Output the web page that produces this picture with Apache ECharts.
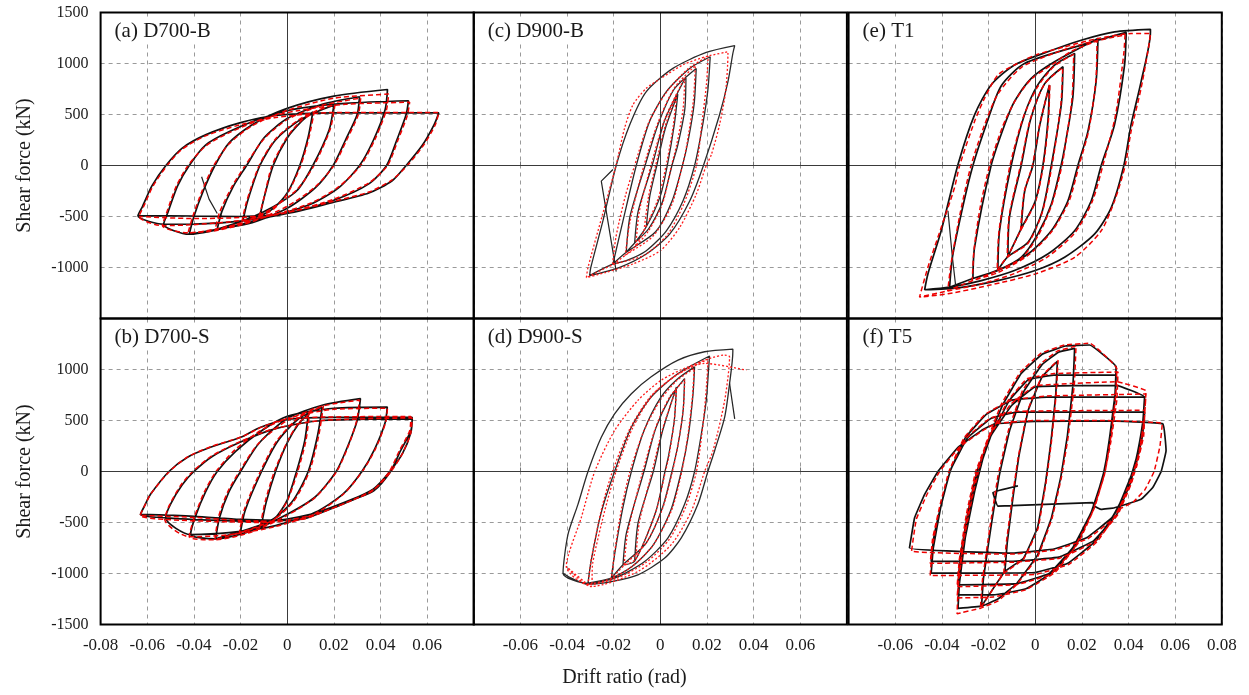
<!DOCTYPE html>
<html>
<head>
<meta charset="utf-8">
<script src="https://cdn.jsdelivr.net/npm/echarts@6/dist/echarts.min.js"></script>
<style>html,body{margin:0;padding:0;background:#fff}#c{width:1249px;height:695px}</style>
</head>
<body>
<div id="c"></div>
<script>
// ---------- labels ----------
const panelTitles = ['(a) D700-B', '(c) D900-B', '(e) T1', '(b) D700-S', '(d) D900-S', '(f) T5'];
const yAxisTitle = 'Shear force (kN)';
const xAxisTitle = 'Drift ratio (rad)';
const xTickValues = [-0.08, -0.06, -0.04, -0.02, 0, 0.02, 0.04, 0.06, 0.08];
const yTickValues = [-1500, -1000, -500, 0, 500, 1000, 1500];

// ---------- (a) D700-B : test (black) and analysis (red), drift [rad], force [kN] ----------
const aTest = [
 [[-0.0117,-493],[-0.0095,-280],[-0.006,0],[0,270],[0.006,430],[0.011,526],[0.009,280],[0.0054,0],[0,-270],[-0.006,-420],[-0.0117,-493]],
 [[-0.019,-543],[-0.017,-350],[-0.0117,0],[-0.005,250],[0.005,440],[0.013,530],[0.020,592],[0.018,350],[0.011,0],[0.004,-250],[-0.008,-430],[-0.019,-543]],
 [[-0.030,-625],[-0.028,-450],[-0.023,-200],[-0.0174,0],[-0.010,270],[0,460],[0.015,600],[0.031,674],[0.030,500],[0.025,250],[0.0197,0],[0.012,-220],[0,-420],[-0.015,-560],[-0.030,-625]],
 [[-0.042,-674],[-0.040,-500],[-0.036,-250],[-0.031,0],[-0.025,220],[-0.015,400],[0,560],[0.02,680],[0.043,745],[0.042,550],[0.037,250],[0.031,0],[0.022,-220],[0.01,-380],[-0.01,-520],[-0.03,-630],[-0.042,-674]],
 [[-0.053,-576],[-0.051,-450],[-0.047,-200],[-0.042,0],[-0.035,200],[-0.025,330],[-0.01,470],[0.005,560],[0.025,610],[0.052,635],[0.051,500],[0.047,250],[0.0426,0],[0.035,-180],[0.02,-340],[0,-470],[-0.02,-545],[-0.04,-575],[-0.053,-576]],
 [[-0.064,-493],[-0.062,-400],[-0.058,-200],[-0.052,0],[-0.045,170],[-0.035,300],[-0.02,420],[-0.005,490],[0.02,515],[0.065,516],[0.063,400],[0.058,200],[0.051,0],[0.045,-150],[0.035,-270],[0.02,-360],[0,-470],[-0.02,-500],[-0.04,-495],[-0.064,-493]]
];
const aTestExtra = [[-0.0367,-110],[-0.0335,-330],[-0.030,-470]];
const aModel = [
 [[-0.012,-500],[-0.0098,-300],[-0.0065,0],[0,280],[0.006,440],[0.0115,520],[0.0095,290],[0.0058,0],[0,-280],[-0.006,-430],[-0.012,-500]],
 [[-0.0195,-560],[-0.0175,-360],[-0.012,0],[-0.005,260],[0.005,450],[0.013,540],[0.0205,600],[0.0185,360],[0.0115,0],[0.004,-240],[-0.008,-440],[-0.0195,-560]],
 [[-0.031,-640],[-0.029,-460],[-0.0235,-200],[-0.018,0],[-0.010,260],[0,450],[0.015,590],[0.0315,660],[0.0305,500],[0.0255,250],[0.020,0],[0.012,-210],[0,-400],[-0.015,-550],[-0.031,-640]],
 [[-0.0425,-660],[-0.0405,-500],[-0.0365,-250],[-0.0315,0],[-0.025,210],[-0.015,390],[0,540],[0.02,660],[0.0435,700],[0.0425,540],[0.0375,250],[0.0315,0],[0.022,-210],[0.01,-370],[-0.01,-510],[-0.03,-620],[-0.0425,-660]],
 [[-0.0535,-590],[-0.0515,-450],[-0.0475,-200],[-0.0425,0],[-0.035,190],[-0.025,320],[-0.01,460],[0.005,540],[0.025,600],[0.0525,620],[0.0515,490],[0.0475,250],[0.043,0],[0.035,-170],[0.02,-330],[0,-460],[-0.02,-540],[-0.04,-580],[-0.0535,-590]],
 [[-0.0635,-500],[-0.0615,-400],[-0.0575,-200],[-0.0515,0],[-0.045,160],[-0.035,290],[-0.02,400],[-0.005,470],[0.02,520],[0.065,520],[0.0635,400],[0.0585,200],[0.0515,0],[0.045,-140],[0.035,-260],[0.02,-350],[0,-460],[-0.02,-510],[-0.04,-520],[-0.0635,-500]]
];

// ---------- (c) D900-B ----------
const cTest = [
 [[-0.006,-600],[-0.0045,-300],[-0.0015,0],[0.002,350],[0.0075,700],[0.006,400],[0.003,0],[0,-300],[-0.006,-600]],
 [[-0.011,-760],[-0.0095,-450],[-0.0035,0],[0.002,450],[0.011,870],[0.0105,550],[0.0075,200],[0.005,0],[0.001,-350],[-0.005,-620],[-0.011,-760]],
 [[-0.0146,-851],[-0.013,-500],[-0.0065,0],[-0.001,400],[0.006,750],[0.0154,952],[0.0145,600],[0.012,250],[0.0095,0],[0.005,-350],[-0.002,-650],[-0.0146,-851]],
 [[-0.0203,-965],[-0.016,-543],[-0.0103,0],[-0.0046,432],[0.0026,725],[0.0126,952],[0.0214,1066],[0.0204,741],[0.0183,416],[0.0147,0],[0.0097,-348],[0.0026,-640],[-0.006,-835],[-0.0146,-933],[-0.0203,-965]],
 [[-0.0303,-1079],[-0.0298,-1000],[-0.0246,-543],[-0.0189,0],[-0.0131,400],[-0.006,725],[0.0054,952],[0.0197,1108],[0.0319,1175],[0.0311,1098],[0.029,822],[0.0254,497],[0.0185,0],[0.0126,-348],[0.004,-673],[-0.006,-868],[-0.0174,-998],[-0.0303,-1079]]
];
const cTestExtra = [[-0.0189,-1040],[-0.0253,-153],[-0.0203,-39]];
const cModel = [
 [[-0.007,-640],[-0.005,-300],[-0.002,0],[0.002,380],[0.007,700],[0.0055,380],[0.0025,0],[-0.001,-330],[-0.007,-640]],
 [[-0.0105,-790],[-0.009,-450],[-0.004,0],[0.002,460],[0.0105,860],[0.0098,560],[0.007,200],[0.0048,0],[0.001,-370],[-0.005,-640],[-0.0105,-790]],
 [[-0.015,-880],[-0.013,-550],[-0.007,0],[-0.001,420],[0.006,760],[0.015,980],[0.0142,640],[0.0115,220],[0.0095,0],[0.005,-380],[-0.003,-690],[-0.015,-880]],
 [[-0.0205,-975],[-0.019,-700],[-0.015,-300],[-0.011,0],[-0.005,420],[0.003,730],[0.012,950],[0.0205,1070],[0.0198,800],[0.018,450],[0.0155,0],[0.01,-380],[0.003,-680],[-0.007,-880],[-0.0205,-975]],
 [[-0.0317,-1100],[-0.031,-1000],[-0.025,-500],[-0.019,0],[-0.0153,367],[-0.0117,595],[-0.006,757],[0,850],[0.01,990],[0.02,1070],[0.029,1115],[0.029,1098],[0.028,725],[0.0254,400],[0.0219,107],[0.0197,0],[0.0154,-283],[0.0083,-608],[0,-835],[-0.0117,-965],[-0.0231,-1046],[-0.0317,-1100]]
];

// ---------- (e) T1 ----------
const eTest = [
 [[-0.006,-620],[-0.0045,-250],[-0.001,0],[0.002,400],[0.0061,790],[0.0055,450],[0.0033,0],[0,-350],[-0.006,-620]],
 [[-0.0117,-894],[-0.011,-500],[-0.006,0],[-0.002,450],[0.004,800],[0.0119,968],[0.0112,600],[0.0069,0],[0.003,-450],[-0.003,-750],[-0.0117,-894]],
 [[-0.016,-1026],[-0.0153,-640],[-0.0103,0],[-0.0046,497],[0.0011,790],[0.0083,985],[0.0169,1098],[0.0161,660],[0.0126,172],[0.0111,0],[0.0069,-380],[0.0011,-673],[-0.006,-900],[-0.016,-1026]],
 [[-0.0267,-1108],[-0.026,-803],[-0.0189,0],[-0.0131,400],[-0.0089,627],[-0.0017,855],[0.0083,1017],[0.0269,1245],[0.0261,822],[0.0226,335],[0.0183,0],[0.014,-348],[0.0069,-640],[-0.0031,-868],[-0.016,-1030],[-0.0267,-1108]],
 [[-0.0367,-1193],[-0.0355,-900],[-0.031,-400],[-0.0267,0],[-0.021,400],[-0.0146,780],[-0.0046,1000],[0.0197,1180],[0.039,1305],[0.0383,985],[0.034,400],[0.0283,0],[0.024,-348],[0.0169,-640],[0.0054,-868],[-0.0089,-1030],[-0.0231,-1128],[-0.0367,-1193]],
 [[-0.0474,-1218],[-0.046,-1063],[-0.0403,-640],[-0.0331,10],[-0.026,497],[-0.0189,790],[-0.0089,985],[0.0054,1115],[0.0197,1228],[0.034,1310],[0.0494,1335],[0.0494,1310],[0.0454,822],[0.0411,400],[0.038,0],[0.0326,-413],[0.0254,-673],[0.0126,-900],[0,-1030],[-0.016,-1128],[-0.0331,-1199],[-0.0474,-1218]]
];
const eTestExtra = [[-0.0374,-445],[-0.0355,-900],[-0.034,-1200]];
const eModel = [
 [[-0.0063,-640],[-0.0047,-260],[-0.0012,0],[0.002,410],[0.0063,800],[0.0057,450],[0.0035,0],[0,-360],[-0.0063,-640]],
 [[-0.012,-900],[-0.0112,-500],[-0.0063,0],[-0.002,460],[0.004,800],[0.0118,960],[0.011,600],[0.0072,0],[0.003,-460],[-0.003,-760],[-0.012,-900]],
 [[-0.0163,-1030],[-0.0155,-640],[-0.0108,0],[-0.005,480],[0.001,770],[0.008,970],[0.0165,1090],[0.0158,660],[0.0128,180],[0.0115,0],[0.007,-390],[0.0012,-690],[-0.006,-910],[-0.0163,-1030]],
 [[-0.027,-1130],[-0.0262,-820],[-0.0235,-400],[-0.0195,0],[-0.014,380],[-0.009,620],[-0.002,840],[0.008,1000],[0.0155,1120],[0.0265,1220],[0.026,830],[0.023,350],[0.0188,0],[0.0145,-350],[0.007,-650],[-0.003,-880],[-0.016,-1050],[-0.027,-1130]],
 [[-0.0375,-1230],[-0.036,-950],[-0.032,-450],[-0.0275,0],[-0.022,380],[-0.016,700],[-0.006,960],[0.008,1100],[0.02,1190],[0.0385,1280],[0.038,1100],[0.0345,500],[0.029,0],[0.0245,-350],[0.017,-660],[0.005,-900],[-0.009,-1060],[-0.023,-1160],[-0.0375,-1230]],
 [[-0.0496,-1290],[-0.046,-998],[-0.0403,-608],[-0.0346,-218],[-0.0324,0],[-0.026,432],[-0.0217,660],[-0.016,887],[-0.0089,985],[0,1082],[0.0126,1163],[0.0269,1245],[0.0411,1293],[0.0494,1295],[0.049,1212],[0.0454,757],[0.0411,335],[0.0386,0],[0.034,-348],[0.0283,-640],[0.0169,-900],[0,-1063],[-0.0203,-1177],[-0.0374,-1258],[-0.0496,-1290]]
];

// ---------- (b) D700-S ----------
const bTest = [
 [[-0.011,-520],[-0.009,-300],[-0.005,0],[0,280],[0.005,470],[0.009,560],[0.0075,300],[0.004,0],[0,-280],[-0.005,-450],[-0.011,-520]],
 [[-0.020,-590],[-0.018,-380],[-0.011,0],[-0.004,300],[0.005,520],[0.015,630],[0.013,350],[0.009,0],[0.002,-300],[-0.008,-500],[-0.020,-590]],
 [[-0.0307,-660],[-0.029,-450],[-0.025,-200],[-0.020,0],[-0.012,280],[0,520],[0.015,650],[0.0314,714],[0.030,500],[0.026,250],[0.021,0],[0.012,-250],[0,-420],[-0.015,-580],[-0.0307,-660]],
 [[-0.0414,-618],[-0.0395,-450],[-0.035,-200],[-0.030,0],[-0.022,200],[-0.011,400],[0,540],[0.02,620],[0.0429,632],[0.042,480],[0.0375,220],[0.032,0],[0.024,-220],[0.012,-400],[-0.005,-530],[-0.025,-600],[-0.0414,-618]],
 [[-0.0521,-454],[-0.050,-320],[-0.045,-130],[-0.040,0],[-0.032,150],[-0.02,290],[-0.005,420],[0.015,500],[0.0536,516],[0.053,380],[0.0495,180],[0.044,0],[0.037,-170],[0.027,-280],[0.01,-420],[-0.01,-490],[-0.03,-480],[-0.0521,-454]],
 [[-0.0629,-421],[-0.061,-330],[-0.0586,-224],[-0.0507,0],[-0.0429,138],[-0.0329,237],[-0.02,335],[-0.0114,434],[0,510],[0.02,530],[0.0536,530],[0.053,400],[0.0486,204],[0.0443,0],[0.0371,-190],[0.0286,-273],[0.02,-355],[0.0086,-454],[0,-480],[-0.02,-470],[-0.04,-440],[-0.0629,-421]]
];
const bModel = [
 [[-0.0115,-530],[-0.0095,-300],[-0.0055,0],[0,290],[0.005,480],[0.0095,560],[0.008,300],[0.0045,0],[0,-290],[-0.005,-460],[-0.0115,-530]],
 [[-0.0205,-600],[-0.0185,-380],[-0.0115,0],[-0.0045,300],[0.005,530],[0.0155,640],[0.0135,350],[0.0095,0],[0.0025,-300],[-0.008,-510],[-0.0205,-600]],
 [[-0.031,-670],[-0.0295,-450],[-0.0255,-200],[-0.0205,0],[-0.0125,270],[0,500],[0.015,640],[0.031,700],[0.0298,500],[0.0262,250],[0.0212,0],[0.0122,-250],[0,-430],[-0.015,-590],[-0.031,-670]],
 [[-0.042,-640],[-0.040,-460],[-0.0355,-200],[-0.0305,0],[-0.0225,210],[-0.0115,400],[0,520],[0.02,610],[0.043,620],[0.0422,480],[0.0378,220],[0.0322,0],[0.0242,-220],[0.0122,-410],[-0.005,-540],[-0.025,-620],[-0.042,-640]],
 [[-0.0525,-470],[-0.0505,-330],[-0.0455,-130],[-0.0405,0],[-0.0325,150],[-0.0205,290],[-0.0055,420],[0.015,500],[0.0535,525],[0.053,380],[0.0495,180],[0.0445,0],[0.0375,-170],[0.0275,-285],[0.0105,-430],[-0.01,-500],[-0.03,-490],[-0.0525,-470]],
 [[-0.063,-430],[-0.061,-330],[-0.0585,-220],[-0.0505,0],[-0.0425,145],[-0.0325,245],[-0.0195,340],[-0.0105,440],[0,515],[0.02,535],[0.053,540],[0.0525,400],[0.048,200],[0.0438,0],[0.0365,-190],[0.028,-280],[0.0195,-360],[0.008,-460],[0,-490],[-0.02,-480],[-0.04,-450],[-0.063,-430]]
];

// ---------- (d) D900-S ----------
const dTest = [
 [[-0.011,-880],[-0.0095,-500],[-0.003,0],[0.001,400],[0.0069,829],[0.006,500],[0.0035,150],[0.002,0],[-0.002,-400],[-0.011,-880]],
 [[-0.016,-915],[-0.0145,-600],[-0.007,0],[-0.002,420],[0.004,720],[0.0104,911],[0.0098,600],[0.0075,250],[0.005,0],[0.001,-350],[-0.006,-700],[-0.016,-915]],
 [[-0.021,-1046],[-0.0195,-800],[-0.016,-350],[-0.0124,0],[-0.007,400],[0,720],[0.007,900],[0.0147,1026],[0.014,750],[0.012,350],[0.009,0],[0.0045,-380],[-0.003,-720],[-0.012,-930],[-0.021,-1046]],
 [[-0.031,-1095],[-0.0297,-880],[-0.0253,-400],[-0.0196,0],[-0.0124,434],[-0.0039,730],[0.0076,960],[0.0211,1132],[0.0207,1000],[0.0197,697],[0.0176,368],[0.0147,0],[0.0104,-322],[0.0033,-651],[-0.0067,-882],[-0.0196,-1046],[-0.031,-1095]],
 [[-0.0417,-997],[-0.0396,-619],[-0.0353,-322],[-0.031,0],[-0.0253,336],[-0.0196,566],[-0.0124,763],[-0.0039,928],[0.0076,1092],[0.019,1174],[0.0311,1200],[0.0311,1175],[0.0297,862],[0.0276,533],[0.0233,204],[0.0204,0],[0.0161,-322],[0.009,-651],[0.0019,-849],[-0.0096,-1013],[-0.021,-1079],[-0.031,-1105],[-0.0381,-1046],[-0.0417,-997]]
];
const dTestExtra = [[0.0297,862],[0.0319,516]];
const dModel = [
 [[-0.0105,-860],[-0.009,-500],[-0.0035,0],[0.001,420],[0.007,820],[0.006,500],[0.0037,150],[0.0022,0],[-0.002,-400],[-0.0105,-860]],
 [[-0.0155,-920],[-0.014,-600],[-0.0075,0],[-0.002,430],[0.004,730],[0.0105,900],[0.0098,600],[0.0076,260],[0.0052,0],[0.001,-360],[-0.006,-700],[-0.0155,-920]],
 [[-0.021,-1050],[-0.0195,-780],[-0.0165,-350],[-0.013,0],[-0.007,400],[0,700],[0.007,890],[0.0145,1010],[0.0138,740],[0.0118,350],[0.0092,0],[0.005,-370],[-0.003,-720],[-0.012,-930],[-0.021,-1050]],
 [[-0.031,-1110],[-0.0295,-850],[-0.025,-350],[-0.0205,0],[-0.013,420],[-0.004,740],[0.008,960],[0.0205,1100],[0.020,900],[0.0185,500],[0.0155,0],[0.011,-340],[0.004,-660],[-0.006,-890],[-0.019,-1050],[-0.031,-1110]],
 [[-0.0403,-931],[-0.0339,-454],[-0.0281,0],[-0.0196,401],[-0.0096,697],[0.0004,895],[0.0119,1026],[0.0276,1141],[0.0297,1125],[0.0276,697],[0.0226,204],[0.019,0],[0.0133,-388],[0.0047,-717],[-0.0096,-980],[-0.0296,-1128],[-0.0403,-931]],
 [[-0.0296,-1128],[-0.029,-900],[-0.024,-400],[-0.019,0],[-0.012,420],[-0.003,760],[0.008,960],[0.019,1060],[0.0369,993]]
];

// ---------- (f) T5 ----------
const fTest = [
 [[-0.013,-980],[-0.012,-700],[-0.0095,-250],[-0.007,150],[-0.003,600],[0.003,930],[0.0095,1080],[0.0088,750],[0.0068,300],[0.0045,-100],[0.001,-550],[-0.005,-850],[-0.013,-980]],
 [[-0.023,-1320],[-0.0222,-1050],[-0.019,-550],[-0.0155,-50],[-0.011,400],[-0.005,780],[0.003,1050],[0.010,1170],[0.0169,1207],[0.0162,850],[0.0138,350],[0.011,-50],[0.007,-450],[0.001,-820],[-0.008,-1100],[-0.016,-1250],[-0.023,-1320]],
 [[-0.0331,-1342],[-0.0325,-1100],[-0.030,-650],[-0.026,-200],[-0.021,250],[-0.014,650],[-0.006,960],[0.003,1150],[0.013,1230],[0.0233,1240],[0.0347,1026],[0.0342,750],[0.032,350],[0.0295,0],[0.025,-350],[0.018,-700],[0.008,-980],[-0.004,-1150],[-0.018,-1210],[-0.0331,-1210]],
 [[-0.0331,-1210],[-0.0322,-950],[-0.029,-500],[-0.025,-50],[-0.019,350],[-0.011,700],[-0.003,900],[0.008,944],[0.0347,944],[0.0342,700],[0.032,300],[0.029,-50],[0.024,-400],[0.016,-750],[0.006,-1000],[-0.008,-1100],[-0.0331,-1112]],
 [[-0.0331,-1112],[-0.0322,-850],[-0.029,-420],[-0.025,0],[-0.019,350],[-0.010,650],[0,830],[0.0347,845],[0.0469,730],[0.0462,500],[0.0442,200],[0.041,-50],[0.035,-380],[0.026,-680],[0.014,-900],[0,-990],[-0.0446,-997]],
 [[-0.0446,-997],[-0.0437,-750],[-0.0405,-350],[-0.0365,0],[-0.030,330],[-0.021,560],[-0.01,700],[0.005,730],[0.0469,730],[0.0462,500],[0.044,200],[0.041,-100],[0.035,-420],[0.025,-680],[0.010,-840],[-0.01,-880],[-0.0446,-881]],
 [[-0.0446,-881],[-0.0435,-650],[-0.040,-300],[-0.036,30],[-0.029,330],[-0.019,520],[-0.008,582],[0.0469,582],[0.046,350],[0.043,50],[0.040,-150],[0.033,-450],[0.022,-650],[0.008,-760],[-0.01,-800],[-0.0539,-750]],
 [[-0.0539,-750],[-0.0517,-454],[-0.0474,-224],[-0.0417,0],[-0.0331,237],[-0.0231,401],[-0.0174,467],[0,490],[0.03,495],[0.0547,467],[0.0561,204],[0.054,0],[0.0504,-158],[0.0454,-273],[0.034,-355],[0.0283,-372],[0.0254,-339],[0.0247,-306],[-0.016,-339],[-0.0181,-207],[-0.0074,-141]]
];
const fModel = [
 [[-0.0135,-1000],[-0.0125,-720],[-0.0098,-250],[-0.0072,150],[-0.0032,600],[0.003,940],[0.0098,1090],[0.009,760],[0.007,300],[0.0047,-100],[0.0012,-560],[-0.005,-860],[-0.0135,-1000]],
 [[-0.0235,-1340],[-0.0226,-1060],[-0.0195,-560],[-0.016,-50],[-0.0115,400],[-0.0055,790],[0.0025,1060],[0.0095,1180],[0.0175,1230],[0.0168,860],[0.0142,350],[0.0113,-50],[0.0072,-460],[0.0012,-830],[-0.008,-1110],[-0.016,-1270],[-0.0235,-1340]],
 [[-0.0335,-1395],[-0.033,-1120],[-0.0305,-660],[-0.0265,-200],[-0.0215,250],[-0.0145,660],[-0.0065,970],[0.0025,1160],[0.0125,1240],[0.0235,1257],[0.035,1010],[0.0345,740],[0.0325,350],[0.030,0],[0.0255,-350],[0.0185,-700],[0.0085,-990],[-0.004,-1160],[-0.018,-1230],[-0.0335,-1240]],
 [[-0.0335,-1240],[-0.0325,-960],[-0.0295,-500],[-0.0255,-50],[-0.0195,350],[-0.0115,700],[-0.0035,910],[0.008,960],[0.0355,975],[0.035,700],[0.0325,300],[0.0295,-50],[0.0245,-400],[0.0165,-760],[0.0065,-1010],[-0.008,-1110],[-0.0335,-1130]],
 [[-0.0335,-1130],[-0.0325,-860],[-0.0295,-420],[-0.0255,0],[-0.0195,350],[-0.0105,660],[0,840],[0.035,880],[0.0475,790],[0.0468,520],[0.0448,200],[0.0415,-50],[0.0355,-390],[0.0265,-690],[0.0145,-910],[0,-1010],[-0.045,-1020]],
 [[-0.045,-1020],[-0.0442,-760],[-0.041,-350],[-0.037,0],[-0.0305,330],[-0.0215,560],[-0.0105,700],[0.005,740],[0.0475,760],[0.0468,520],[0.0446,200],[0.0415,-100],[0.0355,-420],[0.0255,-690],[0.0105,-850],[-0.01,-890],[-0.045,-900]],
 [[-0.045,-900],[-0.044,-660],[-0.0405,-300],[-0.0365,30],[-0.0295,330],[-0.0195,520],[-0.0085,590],[0.047,600],[0.0465,350],[0.0435,50],[0.0405,-150],[0.0335,-460],[0.0225,-660],[0.0085,-770],[-0.01,-810],[-0.053,-780]],
 [[-0.053,-780],[-0.051,-470],[-0.0465,-230],[-0.041,0],[-0.0325,240],[-0.0225,400],[-0.017,470],[0,500],[0.03,500],[0.0545,470],[0.0535,250],[0.051,0],[0.047,-180],[0.042,-300],[0.035,-380]]
];

// ---------- layout ----------
const colLeft = [100.6, 473.7, 848.6];
const colWidth = 373.2;
const rowTop = [12.5, 318.5];
const rowHeight = 306;
const SERIF = "'Liberation Serif','DejaVu Serif',serif";

const panels = [
  {test: aTest, model: aModel, extra: aTestExtra, dotted: false, smooth: 0.25},
  {test: cTest, model: cModel, extra: cTestExtra, dotted: true,  smooth: 0.25},
  {test: eTest, model: eModel, extra: eTestExtra, dotted: false, smooth: 0.25},
  {test: bTest, model: bModel, extra: null,       dotted: false, smooth: 0.25},
  {test: dTest, model: dModel, extra: dTestExtra, dotted: true,  smooth: 0.25},
  {test: fTest, model: fModel, extra: null,       dotted: false, smooth: 0.08}
];

function fmtX(v){ const r = Math.round(v*100)/100; return r === 0 ? '0' : r.toFixed(2); }

const grid = [], xAxis = [], yAxis = [], series = [], title = [], frames = [];
panels.forEach((p, i) => {
  const col = i % 3, row = Math.floor(i / 3);
  grid.push({left: colLeft[col], top: rowTop[row], width: colWidth, height: rowHeight, show: false});
  frames.push({type: 'rect', silent: true, z: 100,
    shape: {x: colLeft[col], y: rowTop[row], width: colWidth, height: rowHeight},
    style: {fill: null, stroke: '#000', lineWidth: 2}});
  xAxis.push({type: 'value', gridIndex: i, min: xTickValues[0], max: xTickValues[xTickValues.length-1], interval: 0.02,
    axisLine: {show: false},
    axisTick: {show: true, inside: true, length: 4, lineStyle: {color: '#777'}},
    splitLine: {show: true, lineStyle: {color: '#9a9a9a', type: [4, 4], width: 1}},
    axisLabel: {show: row === 1, margin: 13, fontFamily: SERIF, fontSize: 17, color: '#1a1a1a',
      showMinLabel: true, showMaxLabel: true,
      formatter: v => {
        if (col === 0 && v > 0.07) return '';
        if (col === 1 && Math.abs(v) > 0.07) return '';
        if (col === 2 && v < -0.07) return '';
        return fmtX(v);
      }}
  });
  yAxis.push({type: 'value', gridIndex: i, min: yTickValues[0], max: yTickValues[yTickValues.length-1], interval: 500,
    axisLine: {show: false},
    axisTick: {show: col === 0, inside: true, length: 4, lineStyle: {color: '#777'}},
    splitLine: {show: true, lineStyle: {color: '#9a9a9a', type: [4, 4], width: 1}},
    name: col === 0 ? yAxisTitle : '', nameLocation: 'middle', nameGap: 66, nameRotate: 90,
    nameTextStyle: {fontFamily: SERIF, fontSize: 20, color: '#1a1a1a'},
    axisLabel: {show: col === 0, margin: 12, fontFamily: SERIF, fontSize: 16, color: '#1a1a1a',
      showMinLabel: true, showMaxLabel: true,
      formatter: v => {
        if (row === 0 && v < -1400) return '';
        if (row === 1 && v > 1400) return '';
        return String(v);
      }}
  });
  // zero lines
  series.push({type: 'line', xAxisIndex: i, yAxisIndex: i, data: [[0, 0]], symbol: 'none', silent: true,
    lineStyle: {opacity: 0}, z: 1,
    markLine: {silent: true, symbol: ['none', 'none'], label: {show: false}, animation: false,
      lineStyle: {color: '#3a3a3a', width: 1, type: 'solid'},
      data: [{xAxis: 0}, {yAxis: 0}]}});
  const blk = p.dotted ? {color: '#2a2a2a', width: 1.3} : {color: '#111', width: 1.7};
  series.push({type: 'line', xAxisIndex: i, yAxisIndex: i, data: p.test.flat(), showSymbol: false, symbol: 'none',
    smooth: p.smooth, lineStyle: blk, z: 3, animation: false});
  if (p.extra) series.push({type: 'line', xAxisIndex: i, yAxisIndex: i, data: p.extra, showSymbol: false, symbol: 'none',
    lineStyle: {color: '#222', width: 1.2}, z: 3, animation: false});
  series.push({type: 'line', xAxisIndex: i, yAxisIndex: i, data: p.model.flat(), showSymbol: false, symbol: 'none',
    smooth: p.smooth, z: 4, animation: false,
    lineStyle: p.dotted ? {color: '#ff1a1a', width: 1.3, type: [2, 2]} : {color: '#ee0000', width: 1.5, type: [5, 3]}});
  title.push({text: panelTitles[i], left: colLeft[col] + 10, top: rowTop[row] + 6,
    backgroundColor: '#fff', padding: [2, 4],
    textStyle: {fontFamily: SERIF, fontSize: 21, fontWeight: 'normal', color: '#1a1a1a'}});
});

const chart = echarts.init(document.getElementById('c'), null, {renderer: 'canvas'});
chart.setOption({
  animation: false,
  backgroundColor: '#fff',
  title: title,
  grid: grid, xAxis: xAxis, yAxis: yAxis, series: series,
  graphic: frames.concat([{type: 'text', left: 'center', top: 668,
    style: {text: xAxisTitle, font: "20px 'Liberation Serif', serif", fill: '#1a1a1a'}}])
});
</script>
</body>
</html>
